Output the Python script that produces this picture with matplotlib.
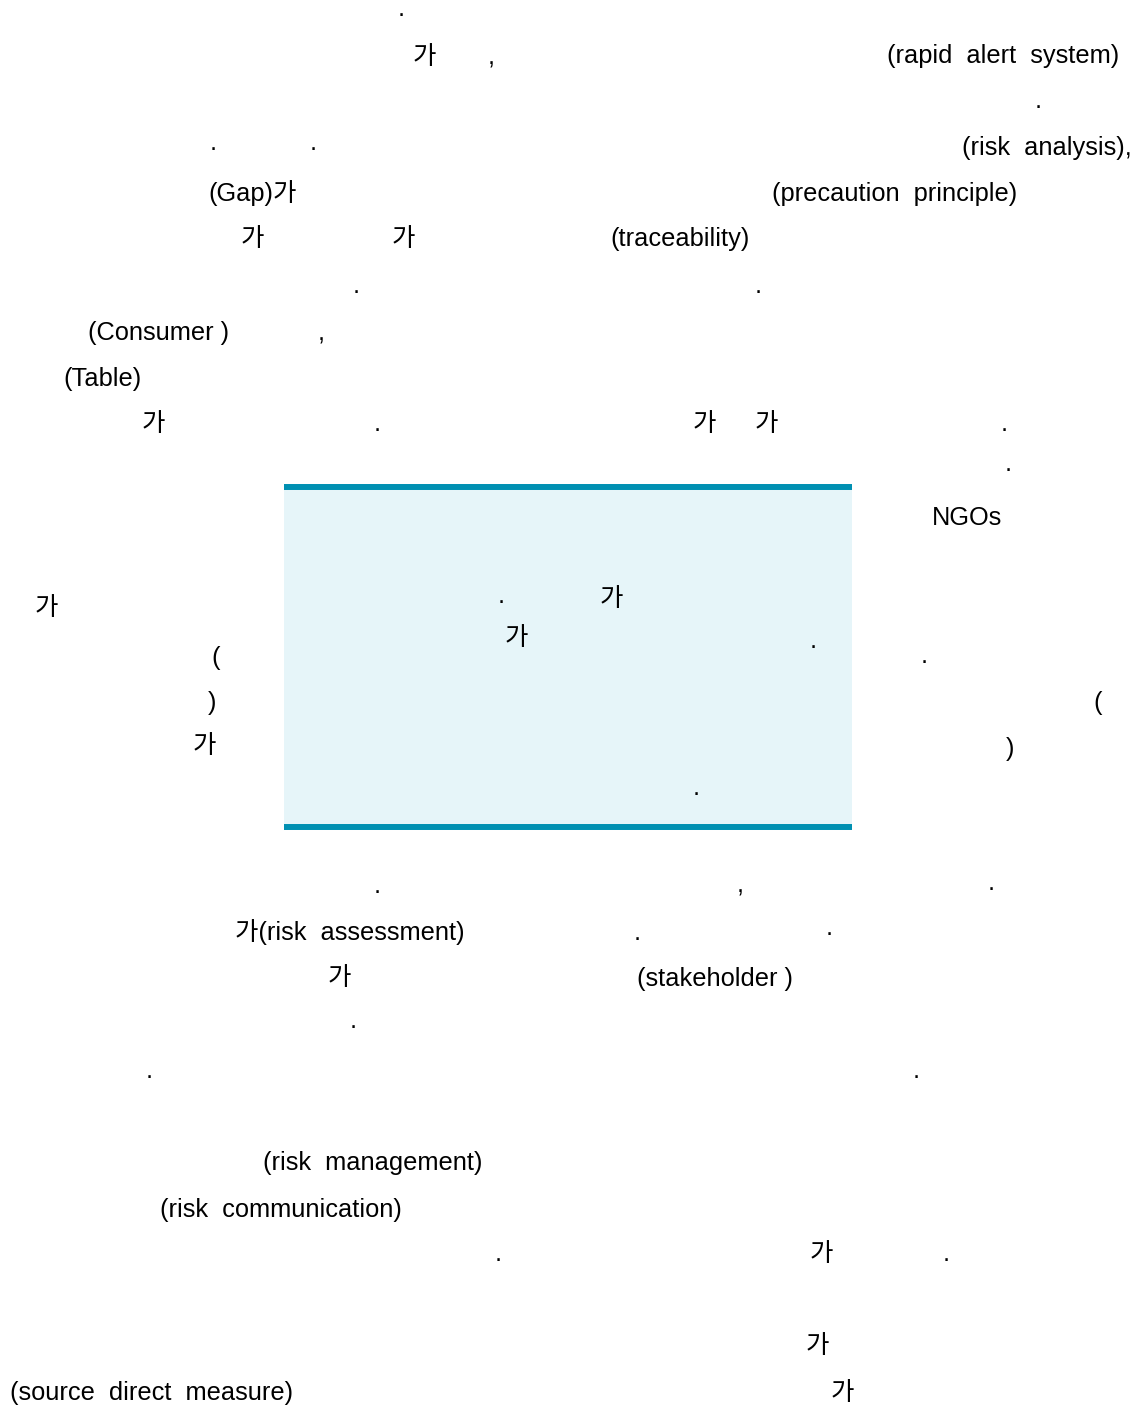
import matplotlib
matplotlib.use("Agg")
import matplotlib.pyplot as plt
from matplotlib.patches import Rectangle

# Text fragments on the page (label, left x in px, baseline y in px)
labels = [".", "가", ",", "(rapid  alert  system)", ".", ".", ".", "(risk  analysis),",
          "(Gap)가", "(precaution  principle)", "가", "가", "(traceability)", ".", ".",
          "(Consumer )", ",", "(Table)", "가", ".", "가", "가", ".", ".", "NGOs",
          "가", "(", ")", "가", "(", ")", ".",
          ".", "가", "가", ".", ".",
          ".", ",", ".", "가(risk  assessment)", ".", ".", "가", "(stakeholder )", ".",
          ".", ".", "(risk  management)", "(risk  communication)", ".", "가", ".",
          "가", "(source  direct  measure)", "가"]
x_left = [398, 413, 488, 887, 1035, 210, 310, 962,
          208, 772, 241, 392, 610, 353, 755,
          88, 318, 63, 142, 374, 693, 755, 1001, 1005, 932,
          35, 211, 208, 193, 1093, 1006, 921,
          498, 600, 505, 810, 693,
          374, 737, 988, 235, 634, 826, 328, 637, 350,
          146, 913, 263, 160, 495, 810, 943,
          806, 10, 831]
y_base = [16, 64, 64, 63, 108, 150, 150, 155,
          201, 201, 246, 246, 246, 293, 293,
          340, 340, 386, 431, 431, 431, 431, 431, 471, 525,
          615, 665, 710, 753, 710, 756, 663,
          603, 606, 645, 648, 795,
          893, 893, 890, 940, 940, 935, 985, 986, 1028,
          1078, 1078, 1170, 1217, 1261, 1261, 1261,
          1353, 1400, 1400]

# Shaded box (left, right, top, bottom) in px
box_x = [284, 852]
box_y = [487, 827]

W, H = 1140, 1409
fig = plt.figure(figsize=(W / 100, H / 100), dpi=100)
ax = fig.add_axes([0, 0, 1, 1])
ax.set_xlim(0, W)
ax.set_ylim(H, 0)
ax.axis("off")

fam = ["Liberation Sans", "Noto Sans CJK KR", "DejaVu Sans"]

ax.add_patch(Rectangle((box_x[0], box_y[0]), box_x[1] - box_x[0], box_y[1] - box_y[0],
                       facecolor="#E6F5F9", edgecolor="none", zorder=0))
for yy in box_y:
    ax.plot(box_x, [yy, yy], color="#0090B2", linewidth=4.3, solid_capstyle="butt", zorder=1)

for t, x, y in zip(labels, x_left, y_base):
    ax.text(x, y, t, ha="left", va="baseline", fontsize=18.3, family=fam, color="black", zorder=2)

fig.savefig("out.png", dpi=100)
